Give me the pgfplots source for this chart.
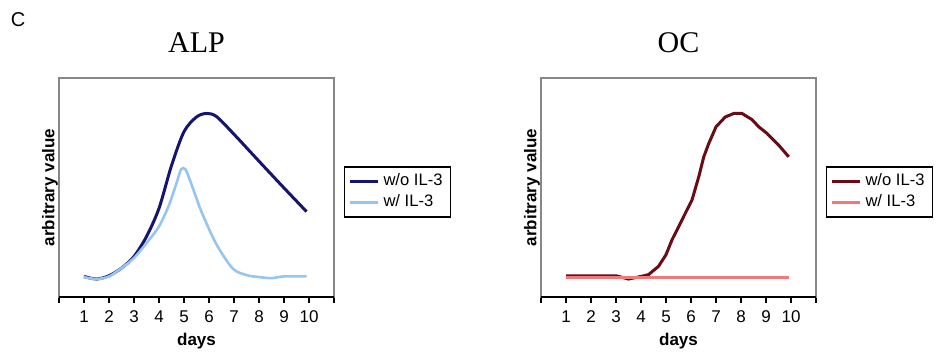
\documentclass[border=0pt]{standalone}
\usepackage{pgfplots}
\pgfplotsset{compat=1.18}
\usepackage{fontspec}
\setmainfont{Liberation Sans}
\newfontfamily\seriffont{Liberation Serif}
\definecolor{navyline}{RGB}{22,20,110}
\definecolor{lightblue}{RGB}{150,198,238}
\definecolor{darkred}{RGB}{105,12,22}
\definecolor{salmon}{RGB}{242,120,122}
\definecolor{boxgray}{RGB}{135,135,135}
\pgfplotsset{
  panel/.style={
    scale only axis, width=137.5pt, height=109.5pt,
    xmin=0, xmax=11, ymin=0, ymax=100,
    axis line style={boxgray, line width=0.7pt},
    xtick={0,...,11}, xticklabels={,1,2,3,4,5,6,7,8,9,10,},
    xtick pos=lower,
    ytick=\empty,
    tick align=outside, major tick length=3pt,
    x tick style={black, line width=0.6pt},
    tick label style={font=\fontsize{8.5}{9}\selectfont},
    /pgf/number format/assume math mode=true,
    xticklabel style={yshift=-0.5pt},
    xlabel={\textbf{days}}, xlabel style={font=\fontsize{8.5}{9}\selectfont, yshift=2pt},
    ylabel={\textbf{arbitrary value}}, ylabel style={font=\fontsize{8.5}{9}\selectfont, yshift=-6pt},
    title style={font=\seriffont\fontsize{15}{17}\selectfont, yshift=3pt},
    legend style={at={(1,0.48)}, anchor=west, xshift=5pt, draw=black, line width=0.7pt,
      font=\fontsize{8.3}{10}\selectfont, inner xsep=2pt, inner ysep=1.5pt,
      row sep=-1pt, cells={anchor=west}},
    legend image code/.code={\draw[#1, line width=1.4pt] (0pt,0pt) -- (14pt,0pt);},
    legend cell align=left,
    clip=false,
  }
}
\begin{document}
\begin{tikzpicture}
\path[use as bounding box] (0,0) rectangle (468pt,176pt);
\node[font=\fontsize{10}{11}\selectfont] at (9pt,166pt) {C};
\begin{axis}[panel, at={(29.5pt,27.5pt)}, anchor=south west, title={ALP}]
\addplot[navyline, line width=1.5pt, smooth] coordinates {
(1,9.4) (1.5,8.2) (2,9.7) (2.5,13.2) (3,18.5) (3.5,27.6) (4,40.5) (4.5,60) (5,75.5) (5.5,82.2) (5.9,83.8) (6.3,82.4) (7,74.3) (8,62) (9,49.8) (9.9,39.0)};
\addlegendentry{w/o IL-3}
\addplot[lightblue, line width=1.3pt, smooth] coordinates {
(1,9.1) (1.5,8.2) (2,9.4) (2.5,13.2) (3,17.8) (3.5,24.6) (4,32.2) (4.4,42) (4.7,52) (4.88,58.2) (5.05,58.4) (5.25,53) (5.5,45) (5.75,37.5) (6.3,24) (6.95,13) (7.5,10) (8,9.1) (8.5,8.6) (9,9.4) (9.9,9.4)};
\addlegendentry{w/ IL-3}
\draw[black, line width=0.7pt] (rel axis cs:0,0) -- (rel axis cs:1,0);
\end{axis}
\begin{axis}[panel, at={(270.5pt,27.5pt)}, anchor=south west, title={OC}]
\addplot[darkred, line width=1.5pt] coordinates {
(1,9.7) (3,9.7) (3.5,8.2) (4,9.4) (4.3,10.2) (4.7,14) (5.0,19.3) (5.24,26.1) (5.51,32.2) (5.77,38.2) (6.04,44.3) (6.31,54.9) (6.51,64.0) (6.71,70.1) (7.0,77.7) (7.37,82.2) (7.71,83.8) (8.04,83.8) (8.44,81.0) (8.71,77.7) (9.04,74.7) (9.51,69.3) (9.91,64.0)};
\addlegendentry{w/o IL-3}
\addplot[salmon, line width=1.3pt] coordinates {
(1,8.8) (2,8.8) (3,8.8) (4,8.8) (5,8.8) (6,8.8) (7,8.8) (8,8.8) (9,8.8) (9.9,8.8)};
\addlegendentry{w/ IL-3}
\draw[black, line width=0.7pt] (rel axis cs:0,0) -- (rel axis cs:1,0);
\end{axis}
\end{tikzpicture}
\end{document}
